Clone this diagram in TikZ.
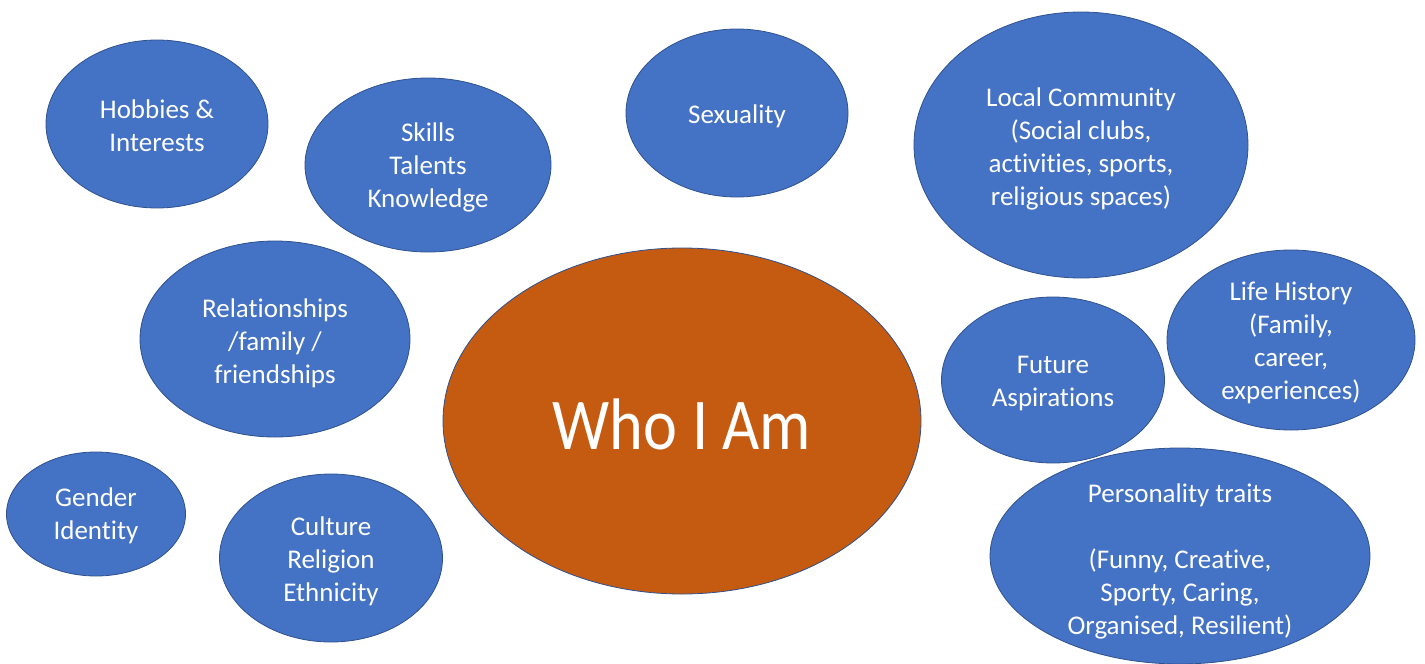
\documentclass[tikz,border=0pt]{standalone}
\usepackage{fontspec}
\setmainfont{Carlito}[Ligatures=NoCommon]
\usetikzlibrary{shapes.geometric}
\definecolor{bubbleblue}{HTML}{4472C4}
\definecolor{edgeblue}{HTML}{2F528F}
\definecolor{coreorange}{HTML}{C55A11}
\tikzset{
  bubble/.style={ellipse, fill=bubbleblue, draw=edgeblue, line width=0.8pt, inner sep=0pt},
  core/.style={ellipse, fill=coreorange, draw=edgeblue, line width=0.8pt, inner sep=0pt},
  txt/.style={text=white, align=center, font=\fontsize{27}{33}\selectfont, inner sep=0pt},
}
\begin{document}
\begin{tikzpicture}[x=1pt, y=-1pt]
\useasboundingbox (0,0) rectangle (1425,664);
% outer bubbles
\node[bubble, minimum width=222pt, minimum height=168pt] (hob) at (157,124) {};
\node[txt] (hobt) at (157,126) {Hobbies \&\\Interests};
\node[bubble, minimum width=246pt, minimum height=174pt] (ski) at (428,165) {};
\node[txt] (skit) at (428,167) {Skills\\Talents\\Knowledge};
\node[bubble, minimum width=222pt, minimum height=168pt] (sex) at (737,113) {};
\node[txt] (sext) at (737,116) {Sexuality};
\node[bubble, minimum width=334pt, minimum height=266pt] (loc) at (1081,145) {};
\node[txt] (loct) at (1081,149) {Local Community\\(Social clubs,\\activities, sports,\\religious spaces)};
\node[bubble, minimum width=270pt, minimum height=196pt] (rel) at (275,339) {};
\node[txt] (relt) at (275,343) {Relationships\\/family /\\friendships};
\node[bubble, minimum width=223pt, minimum height=166pt] (fut) at (1053,380) {};
\node[txt] (futt) at (1053,384) {Future\\Aspirations};
\node[bubble, minimum width=248pt, minimum height=180pt] (lif) at (1291,340) {};
\node[txt] (lift) at (1291,343) {Life History\\(Family,\\career,\\experiences)};
\node[bubble, minimum width=179pt, minimum height=124pt] (gen) at (96,514) {};
\node[txt] (gent) at (96,516) {Gender\\Identity};
\node[bubble, minimum width=223pt, minimum height=168pt] (cul) at (331,558) {};
\node[txt] (cult) at (331,561) {Culture\\Religion\\Ethnicity};
\node[bubble, minimum width=380pt, minimum height=216pt] (per) at (1180,556) {};
\node[txt] (pert) at (1180,561) {Personality traits\\[33pt](Funny, Creative,\\Sporty, Caring,\\Organised, Resilient)};
% central bubble
\node[core, minimum width=478pt, minimum height=346pt] (who) at (682,421) {};
\node[text=white, inner sep=0pt, font=\fontsize{73}{80}\selectfont] (whot) at (682,424) {\scalebox{0.88}[1]{Who I Am}};
\end{tikzpicture}
\end{document}
